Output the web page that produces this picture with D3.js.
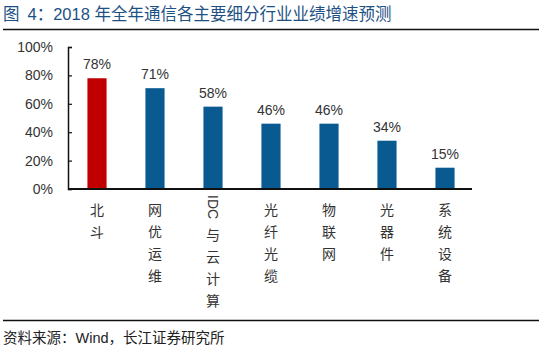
<!DOCTYPE html>
<html>
<head>
<meta charset="utf-8">
<script src="https://cdn.jsdelivr.net/npm/d3@7"></script>
<style>
  html, body { margin: 0; padding: 0; background: #fff; }
  svg { display: block; }
  text { font-family: "Liberation Sans", Arial, "Noto Sans CJK SC", sans-serif; }
</style>
</head>
<body>
<script>
// 2018 growth forecast by telecom sub-sector
const categories = ["北斗", "网优运维", "IDC与云计算", "光纤光缆", "物联网", "光器件", "系统设备"];
const growth = [78, 71, 58, 46, 46, 34, 15];
const yTicks = [0, 20, 40, 60, 80, 100];
const titleLabel = "图";
const titleBody = "4：2018 年全年通信各主要细分行业业绩增速预测";
const sourceText = "资料来源：Wind，长江证券研究所";

const W = 550, H = 350;
const svg = d3.select("body").append("svg").attr("width", W).attr("height", H);

const cjk = '"Noto Sans CJK SC", "Liberation Sans", sans-serif';
const latin = '"Liberation Sans", Arial, "Noto Sans CJK SC", sans-serif';

// title and rules
const title = svg.append("text")
  .attr("x", 3).attr("y", 20)
  .attr("fill", "#1d5184")
  .style("font-family", latin)
  .style("font-size", "16.5px");
title.append("tspan").text(titleLabel);
title.append("tspan").attr("dx", 8).text(titleBody);

svg.append("line").attr("x1", 3).attr("x2", 539).attr("y1", 29.5).attr("y2", 29.5)
  .attr("stroke", "#111").attr("stroke-width", 1.5);
svg.append("line").attr("x1", 3).attr("x2", 539).attr("y1", 320.5).attr("y2", 320.5)
  .attr("stroke", "#111").attr("stroke-width", 1.5);

svg.append("text")
  .attr("x", 3).attr("y", 343)
  .attr("fill", "#222")
  .style("font-family", latin)
  .style("font-size", "14.5px")
  .text(sourceText);

// scales
const x = d3.scaleBand().domain(categories).range([68, 474]).paddingInner(0.67).paddingOuter(0.335);
const y = d3.scaleLinear().domain([0, 100]).range([189, 47]);

// bars
const g = svg.append("g");
g.selectAll("rect.bar")
  .data(categories)
  .join("rect")
  .attr("class", "bar")
  .attr("x", d => x(d))
  .attr("width", x.bandwidth())
  .attr("y", (d, i) => y(growth[i]))
  .attr("height", (d, i) => y(0) - y(growth[i]))
  .attr("fill", (d, i) => i === 0 ? "#c00000" : "#0a5a92");

// value labels
g.selectAll("text.val")
  .data(categories)
  .join("text")
  .attr("class", "val")
  .attr("x", d => x(d) + x.bandwidth() / 2)
  .attr("y", (d, i) => y(growth[i]) - 9)
  .attr("text-anchor", "middle")
  .attr("fill", "#333")
  .style("font-family", latin)
  .style("font-size", "14px")
  .text((d, i) => growth[i] + "%");

// y axis with inward ticks
const yAxis = svg.append("g")
  .attr("transform", "translate(68,0)")
  .call(d3.axisLeft(y).tickValues(yTicks).tickFormat(d => d + "%").tickSizeInner(-4).tickSizeOuter(-4).tickPadding(15));
yAxis.select(".domain").attr("stroke", "#111").attr("stroke-width", 1.5);
yAxis.selectAll(".tick line").attr("stroke", "#111").attr("stroke-width", 1.2);
yAxis.selectAll(".tick text")
  .attr("fill", "#333")
  .style("font-family", latin)
  .style("font-size", "14px");

// x baseline
svg.append("line")
  .attr("x1", 68).attr("x2", 472)
  .attr("y1", y(0)).attr("y2", y(0))
  .attr("stroke", "#111").attr("stroke-width", 2);

// vertical category labels: CJK characters stacked, latin runs rotated
function tokens(s) {
  const out = [];
  let run = "";
  for (const ch of s) {
    if (/[A-Za-z0-9]/.test(ch)) { run += ch; }
    else {
      if (run) { out.push({ t: run, rot: true }); run = ""; }
      out.push({ t: ch, rot: false });
    }
  }
  if (run) out.push({ t: run, rot: true });
  return out;
}

const labelG = svg.append("g");
categories.forEach(cat => {
  const cx = x(cat) + x.bandwidth() / 2;
  let cy = 203;
  tokens(cat).forEach(tok => {
    if (tok.rot) {
      labelG.append("text")
        .attr("transform", `translate(${cx - 5},${cy - 8}) rotate(90)`)
        .attr("fill", "#333")
        .style("font-family", latin)
        .style("font-size", "14px")
        .text(tok.t);
      cy += tok.t.length * 8.6 - 1;
    } else {
      labelG.append("text")
        .attr("x", cx).attr("y", cy + 12)
        .attr("text-anchor", "middle")
        .attr("fill", "#333")
        .style("font-family", cjk)
        .style("font-size", "14px")
        .text(tok.t);
      cy += 22;
    }
  });
});
</script>
</body>
</html>
